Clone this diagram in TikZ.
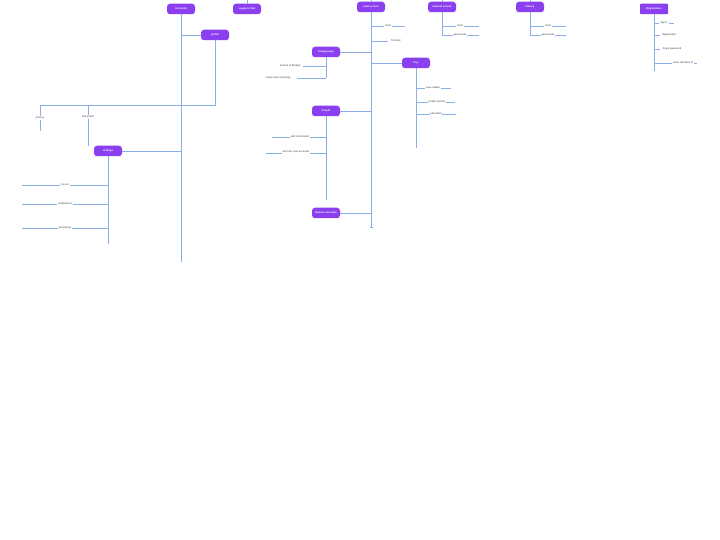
\documentclass[tikz,border=0pt]{standalone}
\usepackage{fontspec}
\setmainfont{Liberation Sans}
\definecolor{purp}{HTML}{8B3FEF}
\definecolor{lblue}{HTML}{8AAEE8}
\begin{document}
\begin{tikzpicture}[x=1pt,y=-1pt,
  box/.style={rounded corners=3pt, fill=purp, draw=none, minimum width=28pt, minimum height=10.5pt, inner sep=0pt, text=white, font=\fontsize{2.6}{3}\selectfont\bfseries},
  lbl/.style={fill=white, inner sep=0.8pt, text=black!75, font=\fontsize{2.6}{3}\selectfont},
  ln/.style={draw=lblue, line width=0.75pt}]
\fill[white] (0,0) rectangle (720,540);
\useasboundingbox (0,0) rectangle (720,540);

% boxes
\node[box] (acc) at (181,9) {Accounts};
\node[box] (sup) at (247,9) {support chat};
\node[box] (prof) at (215,35) {profile};
\node[box] (set) at (108,151) {settings};
\node[box] (main) at (371,7) {main screen};
\node[box] (net) at (442,7) {network screen};
\node[box] (hist) at (530,7) {history};
\node[box, rounded corners=0.8pt] (reg) at (654,9) {Registration};
\node[box] (bud) at (326,52) {budget page};
\node[box] (pay) at (416,63) {Pay};
\node[box] (fri) at (326,111) {friends};
\node[box] (fav) at (326,213) {favorite accounts};

% coordinates
\coordinate (accEnd) at (181,262);
\coordinate (supTop) at (247,0);
\coordinate (mainTop) at (371,0);
\coordinate (netTop) at (442,0);
\coordinate (histTop) at (530,0);
\coordinate (mainEnd) at (371,227);
\coordinate (profBot) at (215,105);
\coordinate (pL) at (40,105);
\coordinate (pLe) at (40,131);
\coordinate (pM) at (88,105);
\coordinate (pMe) at (88,146);
\coordinate (setEnd) at (108,244);
\coordinate (budEnd) at (326,78);
\coordinate (payEnd) at (416,148);
\coordinate (friEnd) at (326,200);
\coordinate (netEnd) at (442,35);
\coordinate (histEnd) at (530,35);
\coordinate (regEnd) at (654,71);

% trunks
\draw[ln] (acc.south) -- (accEnd);
\draw[ln] (sup.north) -- (supTop);
\draw[ln] (main.north) -- (mainTop);
\draw[ln] (net.north) -- (netTop);
\draw[ln] (hist.north) -- (histTop);
\draw[ln] (main.south) -- (mainEnd);
\draw[ln] ([xshift=-1.5pt]mainEnd) -- ([xshift=1.5pt]mainEnd);
\draw[ln] (prof.west) -- (prof.west -| acc.south);
\draw[ln] (prof.south) -- (profBot) -- (pL) -- (pLe);
\draw[ln] (pM) -- (pMe);
\draw[ln] (set.east) -- (set.east -| acc.south);
\draw[ln] (set.south) -- (setEnd);
\draw[ln] (bud.east) -- (bud.east -| main.south);
\draw[ln] (bud.south) -- (budEnd);
\draw[ln] (pay.west) -- (pay.west -| main.south);
\draw[ln] (pay.south) -- (payEnd);
\draw[ln] (fri.east) -- (fri.east -| main.south);
\draw[ln] (fri.south) -- (friEnd);
\draw[ln] (fav.east) -- (fav.east -| main.south);
\draw[ln] (net.south) -- (netEnd);
\draw[ln] (hist.south) -- (histEnd);
\draw[ln] (reg.south) -- (regEnd);

% leaf lines
\draw[ln] (22,185) -- (108,185);
\draw[ln] (22,204) -- (108,204);
\draw[ln] (22,228) -- (108,228);
\draw[ln] (371,26) -- (405,26);
\draw[ln] (371,41) -- (388,41);
\draw[ln] (303,66) -- (326,66);
\draw[ln] (297,78) -- (326,78);
\draw[ln] (416,88) -- (451,88);
\draw[ln] (416,102) -- (455,102);
\draw[ln] (416,114) -- (456,114);
\draw[ln] (272,137) -- (326,137);
\draw[ln] (266,153) -- (326,153);
\draw[ln] (442,26) -- (479,26);
\draw[ln] (442,35) -- (479,35);
\draw[ln] (530,26) -- (566,26);
\draw[ln] (530,35) -- (566,35);
\draw[ln] (654,23) -- (674,23);
\draw[ln] (654,35) -- (660,35);
\draw[ln] (654,49) -- (660,49);
\draw[ln] (654,63) -- (697,63);

% labels
\node[lbl] (l1) at (40,118) {privacy};
\node[lbl] (l2) at (88,117) {edit profile};
\node[lbl] (l3) at (65,185) {log out};
\node[lbl] (l4) at (65,204) {notifications};
\node[lbl] (l5) at (65,228) {all settings};
\node[lbl] (l6) at (388,26) {cards};
\node[lbl] (l7) at (396,41) {Transfer};
\node[lbl] (l8) at (290,66) {Income of Budget};
\node[lbl] (l9) at (278,78) {create new card page};
\node[lbl] (l10) at (433,88) {save details};
\node[lbl] (l11) at (437,102) {mobile transfer};
\node[lbl] (l12) at (436,114) {education};
\node[lbl] (l13) at (300,137) {add new friends};
\node[lbl] (l14) at (296,152) {discover your accounts};
\node[lbl] (l15) at (460,26) {cards};
\node[lbl] (l16) at (460,35) {apartments};
\node[lbl] (l17) at (548,26) {cards};
\node[lbl] (l18) at (548,35) {apartments};
\node[lbl] (l19) at (664,23) {sign in};
\node[lbl] (l20) at (669,35) {Registration};
\node[lbl] (l21) at (672,49) {forgot password};
\node[lbl] (l22) at (683,63) {enter with face id};
\end{tikzpicture}
\end{document}
